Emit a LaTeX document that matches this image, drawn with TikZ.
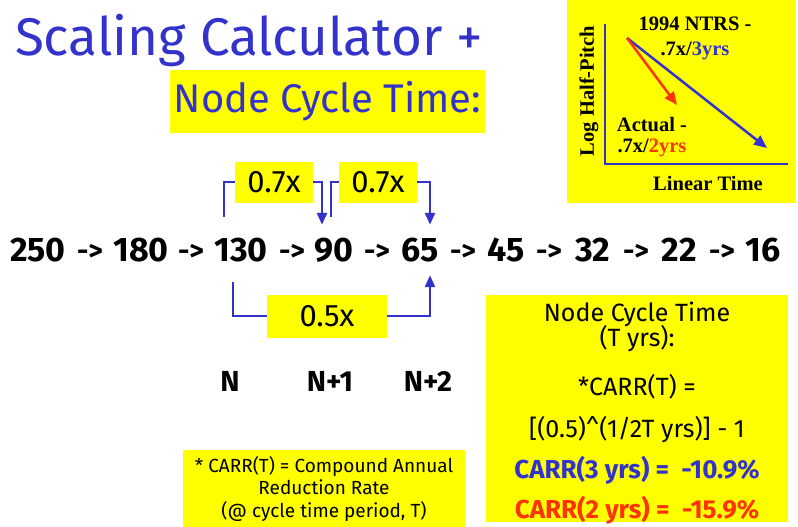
\documentclass[tikz,border=0pt]{standalone}
\usepackage{fontspec}
\setmainfont{Fira Sans}
\newfontfamily\timesb{Liberation Serif}
\usepackage{tikz}
\usetikzlibrary{arrows.meta, positioning, calc}
\usepackage{xcolor}
\definecolor{ppblue}{RGB}{51,51,204}
\definecolor{ppred}{RGB}{255,51,0}
\definecolor{ppyellow}{RGB}{255,255,0}

\begin{document}
\begin{tikzpicture}[
  x=1pt, y=-1pt,
  box/.style={rectangle, fill=ppyellow, inner sep=0pt},
  num/.style={font=\fontsize{34}{34}\selectfont\bfseries, minimum height=50pt, inner sep=0pt},
  sep/.style={font=\fontsize{28}{28}\selectfont\bfseries, inner sep=0pt},
  factor/.style={box, minimum width=78pt, minimum height=41pt, font=\fontsize{31}{31}\selectfont},
  link/.style={draw=ppblue, line width=2.6pt},
  tip/.style={-{Triangle[length=12pt,width=10pt]}},
  gen/.style={font=\fontsize{29}{29}\selectfont\bfseries},
  calc/.style={font=\fontsize{25}{25}\selectfont},
  inset/.style={font=\timesb\fontsize{20.5}{20.5}\selectfont\bfseries, inner sep=0pt}
]
\useasboundingbox (0,0) rectangle (798,527);

% Title
\node[font=\fontsize{53}{53}\selectfont, text=ppblue] (title) at (249,40) {Scaling Calculator +};
\node[box, minimum width=315pt, minimum height=63pt, font=\fontsize{40}{40}\selectfont, text=ppblue]
  (subtitle) at (327.5,101.5) {Node Cycle Time:};

% Inset chart
\node[box, minimum width=228pt, minimum height=203pt] (chart) at (681,101.5) {};
\draw[ppblue, line width=2pt] (605,24) -- (605,164) -- (788,164);
\coordinate (start) at (627,38);
\coordinate (redend) at (677,105);
\coordinate (blueend) at (767,148);
\draw[ppblue, line width=2.5pt, -{Triangle[length=13pt,width=11pt]}] (start) -- (blueend);
\draw[ppred, line width=2.5pt, -{Triangle[length=13pt,width=11pt]}] (start) -- (redend);
\node[inset, rotate=90] (yaxis) at (589,91) {Log Half-Pitch};
\node[inset] (ntrs) at (695,24) {1994 NTRS -};
\node[inset] (ntrsrate) at (695,51) {.7x/\textcolor{ppblue}{3yrs}};
\node[inset] (actual) at (652,125) {Actual -};
\node[inset] (actrate) at (652,148) {.7x/\textcolor{ppred}{2yrs}};
\node[inset] (xaxis) at (708,183) {Linear Time};

% Node sequence
\foreach \v/\x in {250/38, 180/141, 130/241, 90/334, 65/420, 45/506, 32/593, 22/679, 16/763}
  \node[num] (n\v) at (\x,250) {\v};
\foreach \x in {90, 191, 292, 377, 463, 549, 636, 722}
  \node[sep] at (\x,252) {->};

% Scaling arrows
\node[factor] (f1) at (274,182) {};
\node[factor] (f2) at (378,182) {};
\node[factor, minimum width=120pt, minimum height=43pt] (f3) at (327,316) {};
\draw[link, tip] ([xshift=-17pt, yshift=8pt]n130.north) |- (f1) -| ([xshift=-12pt]n90.north);
\draw[link, tip] ([xshift=-3pt, yshift=8pt]n90.north) |- (f2) -| ([xshift=10pt]n65.north);
\draw[link, tip] ([xshift=-8pt, yshift=-7pt]n130.south) |- (f3) -| ([xshift=10pt]n65.south);
\node[factor] at (f1) {0.7x};
\node[factor] at (f2) {0.7x};
\node[factor, minimum width=120pt, minimum height=43pt] at (f3) {0.5x};

% Generations
\node[gen] (g0) at (230,381) {N};
\node[gen] (g1) at (330,381) {N+1};
\node[gen] (g2) at (428,381) {N+2};

% CARR formula
\node[box, minimum width=302pt, minimum height=227pt] (carr) at (637,408.5) {};
\node[calc, align=center] (cyc) at (637,327) {Node Cycle Time\\[-3pt](T yrs):};
\node[calc] (def) at (637,387) {*CARR(T) =};
\node[calc] (form) at (637,430) {[(0.5)\string^(1/2T yrs)] - 1};
\node[calc, font=\fontsize{26}{26}\selectfont\bfseries, text=ppblue] (c3) at (637,470) {CARR(3 yrs)~=~~-10.9\%};
\node[calc, font=\fontsize{26}{26}\selectfont\bfseries, text=ppred] (c2) at (637,510) {CARR(2 yrs)~=~~-15.9\%};

% Footnote
\node[box, minimum width=282pt, minimum height=77pt, align=center, font=\fontsize{19}{22.5}\selectfont]
  (note) at (324,488.5) {* CARR(T) = Compound Annual\\Reduction Rate\\(@ cycle time period, T)};

\end{tikzpicture}
\end{document}
